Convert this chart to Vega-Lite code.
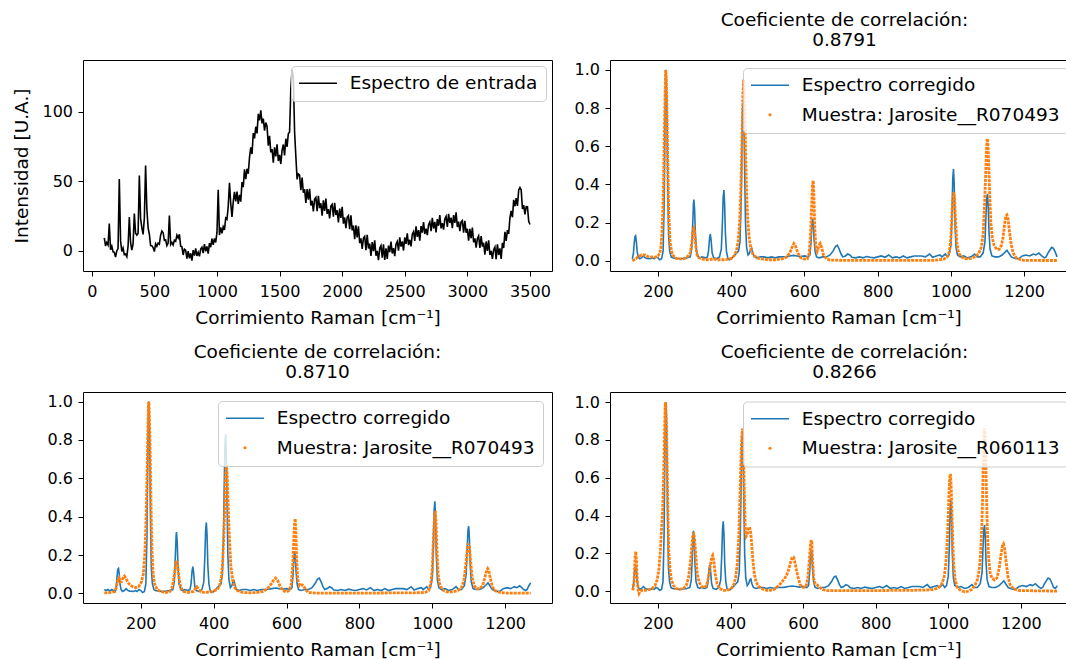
{
"$schema": "https://vega.github.io/schema/vega-lite/v6.json",
"background": "white",
"padding": {"left": 12, "top": 10, "right": 0, "bottom": 0},
"config": {
 "font": "DejaVu Sans",
 "view": {"stroke": "black", "strokeWidth": 1},
 "axis": {"grid": false, "domain": false, "tickColor": "black", "tickSize": 5, "tickWidth": 1, "labelFont": "DejaVu Sans", "labelFontSize": 16, "labelColor": "black", "labelPadding": 5.5, "titleFont": "DejaVu Sans", "titleFontSize": 18.5, "titleFontWeight": "normal", "titleColor": "black", "titlePadding": 10},
 "axisX": {"labelPadding": 7, "titlePadding": 9},
 "title": {"font": "DejaVu Sans", "fontSize": 18.5, "fontWeight": "normal", "color": "black", "anchor": "middle", "offset": 10.5, "lineHeight": 20},
 "legend": {"title": null, "orient": "top-right", "offset": 8, "labelFont": "DejaVu Sans", "labelFontSize": 18.5, "labelColor": "black", "labelLimit": 600, "labelOffset": 22.5, "symbolOffset": 9.75, "symbolType": "stroke", "symbolSize": 1450, "symbolStrokeWidth": 1.5, "padding": 8, "rowPadding": 10.5, "fillColor": "rgba(255,255,255,0.8)", "strokeColor": "#cccccc", "cornerRadius": 4}
},
"datasets": {
"black": [
{"x":100,"y":9.4},{"x":110,"y":3.6},{"x":120,"y":6.1},{"x":130,"y":4.3},{"x":140,"y":19.7},{"x":150,"y":0.9},{"x":160,"y":3.4},{"x":170,"y":-0.7},{"x":180,"y":-0.9},{"x":190,"y":-4.4},
{"x":200,"y":0},{"x":210,"y":1.9},{"x":220,"y":51.7},{"x":230,"y":7.4},{"x":240,"y":-0.4},{"x":250,"y":2.1},{"x":260,"y":-2.7},{"x":270,"y":-2.3},{"x":280,"y":-4.1},{"x":290,"y":3.4},
{"x":300,"y":24.3},{"x":310,"y":6.1},{"x":320,"y":0.6},{"x":330,"y":5},{"x":340,"y":26.9},{"x":350,"y":12.7},{"x":360,"y":11.4},{"x":370,"y":12.6},{"x":380,"y":54.1},{"x":390,"y":23.3},
{"x":400,"y":16.7},{"x":410,"y":11.9},{"x":420,"y":23.4},{"x":430,"y":61.3},{"x":440,"y":30.1},{"x":450,"y":16.6},{"x":460,"y":12},{"x":470,"y":3.9},{"x":480,"y":3.7},{"x":490,"y":2.4},
{"x":500,"y":-0.4},{"x":510,"y":5.1},{"x":520,"y":3.3},{"x":530,"y":5.7},{"x":540,"y":4.9},{"x":550,"y":11.4},{"x":560,"y":14.3},{"x":570,"y":13.1},{"x":580,"y":7.6},{"x":590,"y":8},
{"x":600,"y":3.9},{"x":610,"y":5.7},{"x":620,"y":25.4},{"x":630,"y":4.6},{"x":640,"y":6.1},{"x":650,"y":4.3},{"x":660,"y":7.7},{"x":670,"y":6.9},{"x":680,"y":11.4},{"x":690,"y":9.3},
{"x":700,"y":11.9},{"x":710,"y":3.4},{"x":720,"y":3},{"x":730,"y":-2.9},{"x":740,"y":1.3},{"x":750,"y":0.6},{"x":760,"y":-5.6},{"x":770,"y":-0.1},{"x":780,"y":-5.3},{"x":790,"y":-1.7},
{"x":800,"y":-6.9},{"x":810,"y":0.6},{"x":820,"y":-3.3},{"x":830,"y":1.9},{"x":840,"y":-3.6},{"x":850,"y":-1},{"x":860,"y":-3.9},{"x":870,"y":1.3},{"x":880,"y":2.6},{"x":890,"y":-1.6},
{"x":900,"y":4.9},{"x":910,"y":-0.3},{"x":920,"y":3.3},{"x":930,"y":-1.9},{"x":940,"y":5.6},{"x":950,"y":2.7},{"x":960,"y":8.9},{"x":970,"y":4.4},{"x":980,"y":9},{"x":990,"y":6.1},
{"x":1000,"y":13.3},{"x":1010,"y":44},{"x":1020,"y":11.4},{"x":1030,"y":16.9},{"x":1040,"y":12.7},{"x":1050,"y":17.3},{"x":1060,"y":15.1},{"x":1070,"y":23.6},{"x":1080,"y":22.7},{"x":1090,"y":31.9},
{"x":1100,"y":49},{"x":1110,"y":34},{"x":1120,"y":24.4},{"x":1130,"y":35.2},{"x":1140,"y":42.4},{"x":1150,"y":35.6},{"x":1160,"y":42.6},{"x":1170,"y":33.8},{"x":1180,"y":40.2},{"x":1190,"y":35.4},
{"x":1200,"y":49.4},{"x":1210,"y":45.8},{"x":1220,"y":58.6},{"x":1230,"y":51.6},{"x":1240,"y":59},{"x":1250,"y":55.4},{"x":1260,"y":67.2},{"x":1270,"y":74.4},{"x":1280,"y":69.6},{"x":1290,"y":84.6},
{"x":1300,"y":80.8},{"x":1310,"y":89.2},{"x":1320,"y":84.4},{"x":1330,"y":98.4},{"x":1340,"y":93.8},{"x":1350,"y":101},{"x":1360,"y":91.6},{"x":1370,"y":95},{"x":1380,"y":86.4},{"x":1390,"y":92.2},
{"x":1400,"y":89.4},{"x":1410,"y":75.6},{"x":1420,"y":82.6},{"x":1430,"y":70.8},{"x":1440,"y":73.2},{"x":1450,"y":63.4},{"x":1460,"y":74.4},{"x":1470,"y":67.8},{"x":1480,"y":76.6},{"x":1490,"y":64.6},
{"x":1500,"y":69},{"x":1510,"y":62.4},{"x":1520,"y":72.2},{"x":1530,"y":76.4},{"x":1540,"y":68.6},{"x":1550,"y":80.6},{"x":1560,"y":74.8},{"x":1570,"y":84.2},{"x":1580,"y":85.4},{"x":1590,"y":116.4},
{"x":1600,"y":130},{"x":1610,"y":124.6},{"x":1620,"y":85.6},{"x":1630,"y":68},{"x":1640,"y":51.4},{"x":1650,"y":55.2},{"x":1660,"y":54.4},{"x":1670,"y":43.6},{"x":1680,"y":52.6},{"x":1690,"y":41.8},
{"x":1700,"y":44.2},{"x":1710,"y":34.4},{"x":1720,"y":44.4},{"x":1730,"y":36.8},{"x":1740,"y":44.6},{"x":1750,"y":32.6},{"x":1760,"y":36},{"x":1770,"y":28.4},{"x":1780,"y":37.2},{"x":1790,"y":38.4},
{"x":1800,"y":28.6},{"x":1810,"y":39.6},{"x":1820,"y":30.8},{"x":1830,"y":34.2},{"x":1840,"y":25.4},{"x":1850,"y":36.4},{"x":1860,"y":28.8},{"x":1870,"y":37.6},{"x":1880,"y":26.6},{"x":1890,"y":30},
{"x":1900,"y":23.4},{"x":1910,"y":32.2},{"x":1920,"y":33.4},{"x":1930,"y":24.6},{"x":1940,"y":34.6},{"x":1950,"y":25.8},{"x":1960,"y":29.2},{"x":1970,"y":20.4},{"x":1980,"y":30.4},{"x":1990,"y":23.8},
{"x":2000,"y":31.6},{"x":2010,"y":19.6},{"x":2020,"y":24},{"x":2030,"y":16.4},{"x":2040,"y":24.2},{"x":2050,"y":25.4},{"x":2060,"y":15.6},{"x":2070,"y":25.6},{"x":2080,"y":14.8},{"x":2090,"y":18.2},
{"x":2100,"y":8.4},{"x":2110,"y":18.4},{"x":2120,"y":9.8},{"x":2130,"y":17.6},{"x":2140,"y":5.6},{"x":2150,"y":9},{"x":2160,"y":1.4},{"x":2170,"y":9.2},{"x":2180,"y":10.4},{"x":2190,"y":0.6},
{"x":2200,"y":11.6},{"x":2210,"y":1.8},{"x":2220,"y":5.2},{"x":2230,"y":-3.6},{"x":2240,"y":6.4},{"x":2250,"y":-0.2},{"x":2260,"y":7.6},{"x":2270,"y":-3.4},{"x":2280,"y":0},{"x":2290,"y":-6.6},
{"x":2300,"y":1.9},{"x":2310,"y":3.8},{"x":2320,"y":-4.8},{"x":2330,"y":4.7},{"x":2340,"y":-6.5},{"x":2350,"y":1.9},{"x":2360,"y":-5.7},{"x":2370,"y":3.8},{"x":2380,"y":-0.9},{"x":2390,"y":6.7},
{"x":2400,"y":-1.8},{"x":2410,"y":2},{"x":2420,"y":-3.7},{"x":2430,"y":4.9},{"x":2440,"y":6.8},{"x":2450,"y":0.2},{"x":2460,"y":9.7},{"x":2470,"y":3.1},{"x":2480,"y":6.9},{"x":2490,"y":0.3},
{"x":2500,"y":9.8},{"x":2510,"y":5.1},{"x":2520,"y":12.7},{"x":2530,"y":4.2},{"x":2540,"y":8},{"x":2550,"y":3.3},{"x":2560,"y":11.9},{"x":2570,"y":13.8},{"x":2580,"y":7.2},{"x":2590,"y":17.7},
{"x":2600,"y":10.1},{"x":2610,"y":14.9},{"x":2620,"y":7.3},{"x":2630,"y":17.8},{"x":2640,"y":13.1},{"x":2650,"y":20.7},{"x":2660,"y":12.2},{"x":2670,"y":16},{"x":2680,"y":11.3},{"x":2690,"y":18.9},
{"x":2700,"y":20.8},{"x":2710,"y":14.2},{"x":2720,"y":23.7},{"x":2730,"y":16.1},{"x":2740,"y":20.9},{"x":2750,"y":13.3},{"x":2760,"y":22.8},{"x":2770,"y":18.1},{"x":2780,"y":25.7},{"x":2790,"y":16.2},
{"x":2800,"y":20},{"x":2810,"y":15.3},{"x":2820,"y":22.9},{"x":2830,"y":24.8},{"x":2840,"y":17.2},{"x":2850,"y":26.7},{"x":2860,"y":20.1},{"x":2870,"y":23.9},{"x":2880,"y":16.3},{"x":2890,"y":25.8},
{"x":2900,"y":20.1},{"x":2910,"y":27.7},{"x":2920,"y":17.2},{"x":2930,"y":21},{"x":2940,"y":14.3},{"x":2950,"y":20.9},{"x":2960,"y":21.8},{"x":2970,"y":13.2},{"x":2980,"y":21.7},{"x":2990,"y":13.1},
{"x":3000,"y":15.9},{"x":3010,"y":7.3},{"x":3020,"y":15.8},{"x":3030,"y":9.1},{"x":3040,"y":16.7},{"x":3050,"y":6.2},{"x":3060,"y":9},{"x":3070,"y":2.3},{"x":3080,"y":8.9},{"x":3090,"y":10.8},
{"x":3100,"y":2.2},{"x":3110,"y":10.7},{"x":3120,"y":3.1},{"x":3130,"y":5.9},{"x":3140,"y":-2.7},{"x":3150,"y":6.8},{"x":3160,"y":0.1},{"x":3170,"y":7.7},{"x":3180,"y":-2.8},{"x":3190,"y":0},
{"x":3200,"y":-5.7},{"x":3210,"y":0.9},{"x":3220,"y":2.8},{"x":3230,"y":-6},{"x":3240,"y":4.7},{"x":3250,"y":-2.9},{"x":3260,"y":1.9},{"x":3270,"y":-5.7},{"x":3280,"y":5.8},{"x":3290,"y":2.1},
{"x":3300,"y":13.7},{"x":3310,"y":7.2},{"x":3320,"y":15},{"x":3330,"y":12.3},{"x":3340,"y":23.9},{"x":3350,"y":28.8},{"x":3360,"y":24.2},{"x":3370,"y":36.7},{"x":3380,"y":32.1},{"x":3390,"y":37.9},
{"x":3400,"y":32.3},{"x":3410,"y":43.8},{"x":3420,"y":45.5},{"x":3430,"y":43.7},{"x":3440,"y":30.2},{"x":3450,"y":33},{"x":3460,"y":26.3},{"x":3470,"y":31.9},{"x":3480,"y":31.8},{"x":3490,"y":21.2},
{"x":3500,"y":19}
],
"blue": [
{"x":100,"y":0.02},{"x":105,"y":0.015},{"x":110,"y":0.02},{"x":115,"y":0.012},{"x":120,"y":0.02},{"x":125,"y":0.015},{"x":130,"y":0.01},{"x":133,"y":0.04},{"x":135,"y":0.09},{"x":137,"y":0.125},{"x":139,"y":0.13},{"x":141,"y":0.1},{"x":143,"y":0.05},{"x":146,"y":0.02},{"x":150,"y":0.01},{"x":155,"y":0.015},{"x":160,"y":0.025},{"x":165,"y":0.015},{"x":170,"y":0.012},{"x":180,"y":0.01},{"x":185,"y":0.015},{"x":190,"y":0.01},{"x":195,"y":0.02},{"x":200,"y":0.015},{"x":205,"y":0.005},{"x":210,"y":0.01},{"x":214,"y":0.05},{"x":217,"y":0.3},{"x":219,"y":0.7},{"x":221,"y":0.97},{"x":222,"y":1.0},{"x":223,"y":0.95},{"x":225,"y":0.7},{"x":227,"y":0.35},{"x":229,"y":0.13},{"x":232,"y":0.05},{"x":236,"y":0.02},{"x":240,"y":0.015},{"x":250,"y":0.012},{"x":260,"y":0.01},{"x":270,"y":0.012},{"x":280,"y":0.015},{"x":288,"y":0.02},{"x":292,"y":0.06},{"x":295,"y":0.2},{"x":297,"y":0.3},{"x":298,"y":0.32},{"x":300,"y":0.27},{"x":302,"y":0.15},{"x":305,"y":0.05},{"x":310,"y":0.02},{"x":315,"y":0.015},{"x":320,"y":0.02},{"x":330,"y":0.015},{"x":335,"y":0.02},{"x":338,"y":0.05},{"x":341,"y":0.12},{"x":343,"y":0.14},{"x":345,"y":0.11},{"x":348,"y":0.04},{"x":352,"y":0.015},{"x":360,"y":0.01},{"x":368,"y":0.02},{"x":373,"y":0.06},{"x":376,"y":0.2},{"x":378,"y":0.33},{"x":380,"y":0.37},{"x":382,"y":0.3},{"x":384,"y":0.15},{"x":387,"y":0.05},{"x":391,"y":0.01},{"x":395,"y":0.005},{"x":400,"y":0.01},{"x":405,"y":0.02},{"x":410,"y":0.03},{"x":415,"y":0.04},{"x":420,"y":0.05},{"x":424,"y":0.1},{"x":427,"y":0.3},{"x":429,"y":0.55},{"x":431,"y":0.78},{"x":433,"y":0.83},{"x":435,"y":0.7},{"x":437,"y":0.45},{"x":439,"y":0.2},{"x":442,"y":0.07},{"x":446,"y":0.03},{"x":450,"y":0.04},{"x":453,"y":0.06},{"x":456,"y":0.065},{"x":459,"y":0.04},{"x":463,"y":0.02},{"x":470,"y":0.015},{"x":480,"y":0.02},{"x":490,"y":0.02},{"x":500,"y":0.015},{"x":510,"y":0.02},{"x":520,"y":0.015},{"x":530,"y":0.02},{"x":540,"y":0.02},{"x":550,"y":0.022},{"x":560,"y":0.025},{"x":570,"y":0.028},{"x":580,"y":0.025},{"x":590,"y":0.022},{"x":600,"y":0.025},{"x":610,"y":0.02},{"x":615,"y":0.03},{"x":618,"y":0.1},{"x":620,"y":0.18},{"x":622,"y":0.22},{"x":624,"y":0.2},{"x":626,"y":0.12},{"x":629,"y":0.05},{"x":633,"y":0.02},{"x":640,"y":0.015},{"x":650,"y":0.02},{"x":660,"y":0.02},{"x":670,"y":0.03},{"x":678,"y":0.05},{"x":685,"y":0.075},{"x":690,"y":0.08},{"x":695,"y":0.06},{"x":700,"y":0.035},{"x":705,"y":0.02},{"x":712,"y":0.025},{"x":718,"y":0.035},{"x":724,"y":0.03},{"x":730,"y":0.018},{"x":740,"y":0.015},{"x":750,"y":0.02},{"x":760,"y":0.015},{"x":770,"y":0.022},{"x":780,"y":0.018},{"x":790,"y":0.015},{"x":800,"y":0.02},{"x":810,"y":0.025},{"x":820,"y":0.018},{"x":830,"y":0.03},{"x":840,"y":0.015},{"x":850,"y":0.02},{"x":860,"y":0.015},{"x":870,"y":0.025},{"x":880,"y":0.015},{"x":890,"y":0.02},{"x":900,"y":0.025},{"x":910,"y":0.025},{"x":920,"y":0.025},{"x":930,"y":0.02},{"x":942,"y":0.035},{"x":950,"y":0.018},{"x":960,"y":0.025},{"x":970,"y":0.03},{"x":975,"y":0.02},{"x":985,"y":0.035},{"x":990,"y":0.02},{"x":995,"y":0.03},{"x":1000,"y":0.08},{"x":1003,"y":0.25},{"x":1005,"y":0.43},{"x":1007,"y":0.48},{"x":1009,"y":0.4},{"x":1011,"y":0.2},{"x":1014,"y":0.07},{"x":1018,"y":0.03},{"x":1025,"y":0.02},{"x":1035,"y":0.025},{"x":1045,"y":0.015},{"x":1055,"y":0.02},{"x":1065,"y":0.035},{"x":1072,"y":0.02},{"x":1080,"y":0.02},{"x":1088,"y":0.04},{"x":1093,"y":0.1},{"x":1096,"y":0.25},{"x":1098,"y":0.33},{"x":1100,"y":0.35},{"x":1102,"y":0.28},{"x":1104,"y":0.15},{"x":1107,"y":0.06},{"x":1112,"y":0.025},{"x":1120,"y":0.02},{"x":1130,"y":0.02},{"x":1140,"y":0.03},{"x":1148,"y":0.045},{"x":1153,"y":0.055},{"x":1158,"y":0.04},{"x":1165,"y":0.02},{"x":1175,"y":0.012},{"x":1185,"y":0.01},{"x":1195,"y":0.025},{"x":1205,"y":0.03},{"x":1215,"y":0.025},{"x":1220,"y":0.03},{"x":1225,"y":0.035},{"x":1232,"y":0.03},{"x":1240,"y":0.04},{"x":1248,"y":0.025},{"x":1255,"y":0.015},{"x":1260,"y":0.02},{"x":1265,"y":0.04},{"x":1270,"y":0.055},{"x":1275,"y":0.07},{"x":1280,"y":0.065},{"x":1285,"y":0.045},{"x":1290,"y":0.02},{"x":1295,"y":0.015},{"x":1300,"y":0.03}
],
"o2": [
{"x":130,"y":0.0},{"x":135,"y":0.005},{"x":140,"y":0.01},{"x":145,"y":0.02},{"x":150,"y":0.025},{"x":155,"y":0.03},{"x":160,"y":0.03},{"x":165,"y":0.03},{"x":170,"y":0.025},{"x":175,"y":0.02},{"x":180,"y":0.02},{"x":190,"y":0.018},{"x":195,"y":0.02},{"x":200,"y":0.025},{"x":205,"y":0.04},{"x":208,"y":0.07},{"x":211,"y":0.15},{"x":214,"y":0.3},{"x":216,"y":0.5},{"x":218,"y":0.72},{"x":220,"y":0.93},{"x":221,"y":1.0},{"x":222,"y":0.98},{"x":224,"y":0.85},{"x":226,"y":0.6},{"x":228,"y":0.38},{"x":230,"y":0.22},{"x":233,"y":0.1},{"x":237,"y":0.05},{"x":242,"y":0.025},{"x":250,"y":0.012},{"x":260,"y":0.01},{"x":270,"y":0.01},{"x":280,"y":0.02},{"x":288,"y":0.04},{"x":293,"y":0.1},{"x":296,"y":0.16},{"x":298,"y":0.17},{"x":300,"y":0.15},{"x":303,"y":0.08},{"x":307,"y":0.03},{"x":312,"y":0.015},{"x":320,"y":0.01},{"x":330,"y":0.005},{"x":340,"y":0.005},{"x":350,"y":0.01},{"x":360,"y":0.005},{"x":370,"y":0.005},{"x":380,"y":0.005},{"x":390,"y":0.008},{"x":400,"y":0.012},{"x":408,"y":0.025},{"x":414,"y":0.05},{"x":419,"y":0.1},{"x":423,"y":0.2},{"x":426,"y":0.35},{"x":428,"y":0.5},{"x":430,"y":0.7},{"x":432,"y":0.88},{"x":434,"y":0.95},{"x":436,"y":0.88},{"x":438,"y":0.7},{"x":440,"y":0.5},{"x":442,"y":0.35},{"x":445,"y":0.22},{"x":449,"y":0.12},{"x":454,"y":0.06},{"x":460,"y":0.03},{"x":470,"y":0.015},{"x":480,"y":0.01},{"x":500,"y":0.005},{"x":520,"y":0.005},{"x":540,"y":0.01},{"x":552,"y":0.02},{"x":560,"y":0.04},{"x":566,"y":0.07},{"x":571,"y":0.09},{"x":576,"y":0.075},{"x":582,"y":0.04},{"x":590,"y":0.015},{"x":600,"y":0.008},{"x":608,"y":0.01},{"x":613,"y":0.04},{"x":617,"y":0.15},{"x":620,"y":0.3},{"x":622,"y":0.4},{"x":624,"y":0.42},{"x":626,"y":0.33},{"x":628,"y":0.18},{"x":631,"y":0.07},{"x":635,"y":0.05},{"x":640,"y":0.08},{"x":643,"y":0.09},{"x":647,"y":0.07},{"x":652,"y":0.03},{"x":660,"y":0.01},{"x":670,"y":0.003},{"x":700,"y":0.002},{"x":750,"y":0.002},{"x":800,"y":0.002},{"x":850,"y":0.002},{"x":900,"y":0.002},{"x":950,"y":0.002},{"x":960,"y":0.003},{"x":980,"y":0.008},{"x":990,"y":0.02},{"x":996,"y":0.05},{"x":1000,"y":0.12},{"x":1003,"y":0.25},{"x":1006,"y":0.34},{"x":1008,"y":0.36},{"x":1010,"y":0.32},{"x":1013,"y":0.2},{"x":1016,"y":0.1},{"x":1020,"y":0.05},{"x":1026,"y":0.025},{"x":1035,"y":0.012},{"x":1045,"y":0.01},{"x":1055,"y":0.012},{"x":1065,"y":0.02},{"x":1075,"y":0.035},{"x":1083,"y":0.07},{"x":1088,"y":0.14},{"x":1092,"y":0.3},{"x":1095,"y":0.46},{"x":1097,"y":0.58},{"x":1099,"y":0.64},{"x":1101,"y":0.62},{"x":1103,"y":0.52},{"x":1106,"y":0.35},{"x":1109,"y":0.2},{"x":1113,"y":0.12},{"x":1118,"y":0.08},{"x":1125,"y":0.06},{"x":1132,"y":0.06},{"x":1138,"y":0.08},{"x":1143,"y":0.13},{"x":1147,"y":0.2},{"x":1150,"y":0.235},{"x":1153,"y":0.24},{"x":1156,"y":0.22},{"x":1160,"y":0.15},{"x":1165,"y":0.08},{"x":1170,"y":0.04},{"x":1178,"y":0.015},{"x":1190,"y":0.005},{"x":1200,"y":0.002},{"x":1250,"y":0.001},{"x":1292,"y":0.001}
],
"o3": [
{"x":100,"y":0.003},{"x":110,"y":0.003},{"x":120,"y":0.005},{"x":128,"y":0.01},{"x":133,"y":0.03},{"x":137,"y":0.07},{"x":140,"y":0.08},{"x":143,"y":0.06},{"x":147,"y":0.06},{"x":151,"y":0.08},{"x":155,"y":0.09},{"x":159,"y":0.08},{"x":164,"y":0.06},{"x":170,"y":0.045},{"x":178,"y":0.035},{"x":186,"y":0.03},{"x":194,"y":0.035},{"x":202,"y":0.06},{"x":207,"y":0.1},{"x":211,"y":0.2},{"x":214,"y":0.35},{"x":216,"y":0.5},{"x":218,"y":0.7},{"x":220,"y":0.9},{"x":221,"y":0.98},{"x":222,"y":1.0},{"x":223,"y":0.97},{"x":225,"y":0.82},{"x":227,"y":0.6},{"x":229,"y":0.38},{"x":231,"y":0.22},{"x":234,"y":0.1},{"x":238,"y":0.05},{"x":245,"y":0.02},{"x":255,"y":0.01},{"x":270,"y":0.005},{"x":280,"y":0.01},{"x":286,"y":0.03},{"x":291,"y":0.08},{"x":295,"y":0.14},{"x":298,"y":0.17},{"x":301,"y":0.15},{"x":305,"y":0.08},{"x":310,"y":0.03},{"x":318,"y":0.01},{"x":330,"y":0.005},{"x":345,"y":0.01},{"x":350,"y":0.025},{"x":354,"y":0.035},{"x":358,"y":0.025},{"x":365,"y":0.008},{"x":375,"y":0.005},{"x":390,"y":0.008},{"x":400,"y":0.012},{"x":410,"y":0.02},{"x":416,"y":0.04},{"x":421,"y":0.08},{"x":425,"y":0.17},{"x":428,"y":0.3},{"x":431,"y":0.48},{"x":433,"y":0.62},{"x":435,"y":0.67},{"x":437,"y":0.62},{"x":440,"y":0.45},{"x":443,"y":0.3},{"x":447,"y":0.15},{"x":452,"y":0.07},{"x":458,"y":0.03},{"x":465,"y":0.015},{"x":480,"y":0.005},{"x":500,"y":0.003},{"x":520,"y":0.005},{"x":535,"y":0.01},{"x":548,"y":0.025},{"x":558,"y":0.05},{"x":565,"y":0.07},{"x":570,"y":0.08},{"x":575,"y":0.07},{"x":582,"y":0.04},{"x":590,"y":0.015},{"x":600,"y":0.008},{"x":608,"y":0.015},{"x":613,"y":0.05},{"x":617,"y":0.15},{"x":620,"y":0.28},{"x":622,"y":0.37},{"x":624,"y":0.39},{"x":626,"y":0.3},{"x":628,"y":0.17},{"x":631,"y":0.07},{"x":636,"y":0.04},{"x":642,"y":0.045},{"x":647,"y":0.04},{"x":652,"y":0.02},{"x":660,"y":0.005},{"x":680,"y":0.002},{"x":750,"y":0.002},{"x":850,"y":0.002},{"x":950,"y":0.003},{"x":980,"y":0.005},{"x":990,"y":0.015},{"x":996,"y":0.05},{"x":1000,"y":0.13},{"x":1003,"y":0.28},{"x":1006,"y":0.4},{"x":1008,"y":0.43},{"x":1010,"y":0.38},{"x":1013,"y":0.22},{"x":1016,"y":0.1},{"x":1020,"y":0.05},{"x":1027,"y":0.02},{"x":1040,"y":0.008},{"x":1055,"y":0.008},{"x":1070,"y":0.015},{"x":1080,"y":0.03},{"x":1087,"y":0.07},{"x":1092,"y":0.15},{"x":1096,"y":0.23},{"x":1099,"y":0.26},{"x":1102,"y":0.24},{"x":1105,"y":0.17},{"x":1109,"y":0.09},{"x":1115,"y":0.04},{"x":1122,"y":0.025},{"x":1130,"y":0.025},{"x":1138,"y":0.04},{"x":1144,"y":0.08},{"x":1149,"y":0.12},{"x":1152,"y":0.13},{"x":1155,"y":0.12},{"x":1159,"y":0.08},{"x":1165,"y":0.035},{"x":1172,"y":0.015},{"x":1185,"y":0.005},{"x":1200,"y":0.002},{"x":1270,"y":0.001}
],
"o4": [
{"x":130,"y":0.005},{"x":133,"y":0.02},{"x":135,"y":0.08},{"x":137,"y":0.18},{"x":139,"y":0.21},{"x":141,"y":0.16},{"x":143,"y":0.06},{"x":146,"y":0.0},{"x":148,"y":-0.012},{"x":151,"y":0.0},{"x":155,"y":0.005},{"x":165,"y":0.005},{"x":175,"y":0.008},{"x":185,"y":0.015},{"x":192,"y":0.03},{"x":198,"y":0.06},{"x":203,"y":0.12},{"x":207,"y":0.22},{"x":210,"y":0.33},{"x":213,"y":0.43},{"x":215,"y":0.55},{"x":217,"y":0.72},{"x":219,"y":0.9},{"x":220,"y":0.98},{"x":221,"y":1.0},{"x":222,"y":0.97},{"x":224,"y":0.85},{"x":226,"y":0.6},{"x":228,"y":0.38},{"x":230,"y":0.22},{"x":233,"y":0.12},{"x":237,"y":0.06},{"x":243,"y":0.03},{"x":250,"y":0.015},{"x":260,"y":0.01},{"x":270,"y":0.015},{"x":278,"y":0.03},{"x":284,"y":0.07},{"x":289,"y":0.14},{"x":293,"y":0.23},{"x":296,"y":0.29},{"x":298,"y":0.31},{"x":301,"y":0.28},{"x":304,"y":0.2},{"x":308,"y":0.1},{"x":313,"y":0.05},{"x":320,"y":0.025},{"x":328,"y":0.02},{"x":334,"y":0.03},{"x":339,"y":0.07},{"x":344,"y":0.13},{"x":348,"y":0.18},{"x":351,"y":0.19},{"x":354,"y":0.16},{"x":358,"y":0.09},{"x":363,"y":0.04},{"x":370,"y":0.015},{"x":380,"y":0.005},{"x":390,"y":0.005},{"x":400,"y":0.01},{"x":408,"y":0.03},{"x":414,"y":0.07},{"x":419,"y":0.15},{"x":423,"y":0.3},{"x":426,"y":0.5},{"x":429,"y":0.7},{"x":431,"y":0.82},{"x":433,"y":0.86},{"x":435,"y":0.8},{"x":437,"y":0.62},{"x":439,"y":0.45},{"x":441,"y":0.32},{"x":443,"y":0.29},{"x":446,"y":0.3},{"x":449,"y":0.33},{"x":452,"y":0.34},{"x":455,"y":0.32},{"x":458,"y":0.26},{"x":461,"y":0.18},{"x":465,"y":0.1},{"x":470,"y":0.05},{"x":478,"y":0.025},{"x":488,"y":0.012},{"x":500,"y":0.005},{"x":510,"y":0.005},{"x":520,"y":0.01},{"x":530,"y":0.025},{"x":540,"y":0.045},{"x":550,"y":0.07},{"x":558,"y":0.1},{"x":565,"y":0.15},{"x":570,"y":0.18},{"x":574,"y":0.18},{"x":579,"y":0.14},{"x":585,"y":0.08},{"x":592,"y":0.035},{"x":600,"y":0.02},{"x":608,"y":0.025},{"x":613,"y":0.07},{"x":617,"y":0.16},{"x":620,"y":0.24},{"x":622,"y":0.27},{"x":624,"y":0.26},{"x":626,"y":0.17},{"x":629,"y":0.07},{"x":633,"y":0.04},{"x":638,"y":0.035},{"x":645,"y":0.02},{"x":655,"y":0.008},{"x":670,"y":0.003},{"x":800,"y":0.003},{"x":850,"y":0.005},{"x":900,"y":0.005},{"x":950,"y":0.007},{"x":970,"y":0.015},{"x":980,"y":0.03},{"x":988,"y":0.07},{"x":993,"y":0.14},{"x":997,"y":0.26},{"x":1000,"y":0.4},{"x":1002,"y":0.52},{"x":1004,"y":0.6},{"x":1006,"y":0.62},{"x":1008,"y":0.55},{"x":1010,"y":0.42},{"x":1012,"y":0.28},{"x":1015,"y":0.14},{"x":1019,"y":0.06},{"x":1025,"y":0.02},{"x":1035,"y":0.003},{"x":1045,"y":-0.003},{"x":1055,"y":0.0},{"x":1065,"y":0.01},{"x":1073,"y":0.03},{"x":1080,"y":0.06},{"x":1085,"y":0.11},{"x":1089,"y":0.2},{"x":1092,"y":0.33},{"x":1094,"y":0.45},{"x":1096,"y":0.65},{"x":1098,"y":0.8},{"x":1100,"y":0.86},{"x":1102,"y":0.8},{"x":1104,"y":0.62},{"x":1106,"y":0.44},{"x":1108,"y":0.3},{"x":1111,"y":0.18},{"x":1115,"y":0.1},{"x":1120,"y":0.07},{"x":1127,"y":0.06},{"x":1134,"y":0.07},{"x":1140,"y":0.12},{"x":1145,"y":0.19},{"x":1149,"y":0.24},{"x":1152,"y":0.25},{"x":1155,"y":0.23},{"x":1159,"y":0.16},{"x":1164,"y":0.08},{"x":1170,"y":0.035},{"x":1180,"y":0.012},{"x":1195,"y":0.004},{"x":1250,"y":0.002},{"x":1300,"y":0.001}
]
},
"columns": 2,
"spacing": {"column": 58, "row": 121},
"bounds": "flush",
"resolve": {"scale": {"x": "independent", "y": "independent", "color": "independent"}, "axis": {"x": "independent", "y": "independent"}, "legend": {"color": "independent"}},
"concat": [
{
 "width": 469, "height": 211,
 "encoding": {
  "x": {"field": "x", "type": "quantitative", "scale": {"domain": [-70, 3676], "nice": false, "zero": false}, "axis": {"values": [0,500,1000,1500,2000,2500,3000,3500], "format": "d", "title": "Corrimiento Raman [cm⁻¹]"}},
  "y": {"field": "y", "type": "quantitative", "scale": {"domain": [-14.4, 137.1], "nice": false, "zero": false}, "axis": {"values": [0,50,100], "format": "d", "title": "Intensidad [U.A.]"}}
 },
 "layer": [
  {"data": {"name": "black"}, "mark": {"type": "line", "strokeWidth": 1.6, "clip": true},
   "encoding": {"color": {"datum": "Espectro de entrada", "scale": {"domain": ["Espectro de entrada"], "range": ["black"]},
    "legend": {"offset": 6, "encode": {"symbols": {"update": {"shape": {"signal": "datum.value === 'Espectro de entrada' ? 'stroke' : 'circle'"}, "size": {"signal": "datum.value === 'Espectro de entrada' ? 1450 : 10"}, "strokeWidth": {"signal": "datum.value === 'Espectro de entrada' ? 1.5 : 0"}}}}}}}}
 ]
},
{
 "width": 457, "height": 211,
 "title": {"text": ["Coeficiente de correlación:", "0.8791"], "dx": 6},
 "encoding": {
  "x": {"field": "x", "type": "quantitative", "scale": {"domain": [69, 1317], "nice": false, "zero": false}, "axis": {"values": [200,400,600,800,1000,1200], "format": "d", "title": "Corrimiento Raman [cm⁻¹]"}},
  "y": {"field": "y", "type": "quantitative", "scale": {"domain": [-0.054, 1.052], "nice": false, "zero": false}, "axis": {"values": [0,0.2,0.4,0.6,0.8,1.0], "format": ".1f", "title": null}}
 },
 "layer": [
  {"data": {"name": "blue"}, "transform": [{"filter": "datum.x >= 130 && datum.x <= 1290"}], "mark": {"type": "line", "strokeWidth": 1.6, "clip": true},
   "encoding": {"color": {"datum": "Espectro corregido", "scale": {"domain": ["Espectro corregido", "Muestra: Jarosite__R070493"], "range": ["#1f77b4", "#ff7f0e"]},
     "legend": {"orient": "none", "legendX": 133, "legendY": 8, "encode": {"symbols": {"update": {"shape": {"signal": "datum.value === 'Espectro corregido' ? 'stroke' : 'circle'"}, "size": {"signal": "datum.value === 'Espectro corregido' ? 1450 : 10"}, "fill": {"signal": "datum.value === 'Espectro corregido' ? 'transparent' : '#ff7f0e'"}, "strokeWidth": {"signal": "datum.value === 'Espectro corregido' ? 1.5 : 0"}}}}}}}},
  {"data": {"name": "o2"}, "mark": {"type": "line", "strokeWidth": 2.8, "strokeDash": [3, 1], "clip": true},
   "encoding": {"color": {"datum": "Muestra: Jarosite__R070493"}}}
 ]
},
{
 "width": 469, "height": 211,
 "title": {"text": ["Coeficiente de correlación:", "0.8710"]},
 "encoding": {
  "x": {"field": "x", "type": "quantitative", "scale": {"domain": [41.5, 1328.5], "nice": false, "zero": false}, "axis": {"values": [200,400,600,800,1000,1200], "format": "d", "title": "Corrimiento Raman [cm⁻¹]"}},
  "y": {"field": "y", "type": "quantitative", "scale": {"domain": [-0.05, 1.05], "nice": false, "zero": false}, "axis": {"values": [0,0.2,0.4,0.6,0.8,1.0], "format": ".1f", "title": null}}
 },
 "layer": [
  {"data": {"name": "blue"}, "transform": [{"filter": "datum.x <= 1272"}], "mark": {"type": "line", "strokeWidth": 1.6, "clip": true},
   "encoding": {"color": {"datum": "Espectro corregido", "scale": {"domain": ["Espectro corregido", "Muestra: Jarosite__R070493"], "range": ["#1f77b4", "#ff7f0e"]},
     "legend": {"offset": 9, "encode": {"symbols": {"update": {"shape": {"signal": "datum.value === 'Espectro corregido' ? 'stroke' : 'circle'"}, "size": {"signal": "datum.value === 'Espectro corregido' ? 1450 : 10"}, "fill": {"signal": "datum.value === 'Espectro corregido' ? 'transparent' : '#ff7f0e'"}, "strokeWidth": {"signal": "datum.value === 'Espectro corregido' ? 1.5 : 0"}}}}}}}},
  {"data": {"name": "o3"}, "mark": {"type": "line", "strokeWidth": 2.8, "strokeDash": [3, 1], "clip": true},
   "encoding": {"color": {"datum": "Muestra: Jarosite__R070493"}}}
 ]
},
{
 "width": 457, "height": 211,
 "title": {"text": ["Coeficiente de correlación:", "0.8266"], "dx": 6},
 "encoding": {
  "x": {"field": "x", "type": "quantitative", "scale": {"domain": [68, 1327], "nice": false, "zero": false}, "axis": {"values": [200,400,600,800,1000,1200], "format": "d", "title": "Corrimiento Raman [cm⁻¹]"}},
  "y": {"field": "y", "type": "quantitative", "scale": {"domain": [-0.062, 1.053], "nice": false, "zero": false}, "axis": {"values": [0,0.2,0.4,0.6,0.8,1.0], "format": ".1f", "title": null}}
 },
 "layer": [
  {"data": {"name": "blue"}, "transform": [{"filter": "datum.x >= 130 && datum.x <= 1300"}], "mark": {"type": "line", "strokeWidth": 1.6, "clip": true},
   "encoding": {"color": {"datum": "Espectro corregido", "scale": {"domain": ["Espectro corregido", "Muestra: Jarosite__R060113"], "range": ["#1f77b4", "#ff7f0e"]},
     "legend": {"orient": "none", "legendX": 133, "legendY": 9.5, "encode": {"symbols": {"update": {"shape": {"signal": "datum.value === 'Espectro corregido' ? 'stroke' : 'circle'"}, "size": {"signal": "datum.value === 'Espectro corregido' ? 1450 : 10"}, "fill": {"signal": "datum.value === 'Espectro corregido' ? 'transparent' : '#ff7f0e'"}, "strokeWidth": {"signal": "datum.value === 'Espectro corregido' ? 1.5 : 0"}}}}}}}},
  {"data": {"name": "o4"}, "mark": {"type": "line", "strokeWidth": 2.8, "strokeDash": [3, 1], "clip": true},
   "encoding": {"color": {"datum": "Muestra: Jarosite__R060113"}}}
 ]
}
]
}
